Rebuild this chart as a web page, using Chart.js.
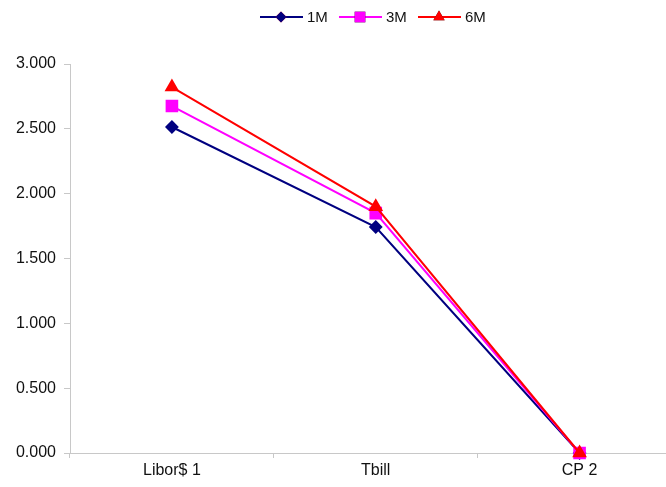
<!DOCTYPE html>
<html>
<head>
<meta charset="utf-8">
<script src="https://cdn.jsdelivr.net/npm/chart.js@4"></script>
<style>
  html, body { margin: 0; padding: 0; background: #fff; overflow: hidden; }
  #wrap { width: 691px; height: 487px; }
</style>
</head>
<body>
<div id="wrap"><canvas id="myChart"></canvas></div>
<script>
const labels = ['Libor$ 1', 'Tbill', 'CP 2'];
const seriesNames = ['1M', '3M', '6M'];
const m1 = [2.514, 1.743, 0.000];
const m3 = [2.676, 1.850, 0.000];
const m6 = [2.822, 1.900, 0.000];
const yTicks = [0, 0.5, 1, 1.5, 2, 2.5, 3];

const colors = ['#000080', '#FF00FF', '#FF0000'];
const styles = ['rectRot', 'rect', 'triangle'];
const radii = [5.5, 7.5, 6.5];
const fontFam = '"Liberation Sans", Arial, sans-serif';

// legend drawn as line + marker, like the original
const lineLegend = {
    id: 'lineLegend',
    afterDraw(chart) {
        const ctx = chart.ctx;
        const xs = [260, 339, 418];
        const y = 17;
        ctx.save();
        chart.data.datasets.forEach((ds, i) => {
            const x = xs[i];
            ctx.strokeStyle = ds.borderColor;
            ctx.lineWidth = 2;
            ctx.beginPath();
            ctx.moveTo(x, y);
            ctx.lineTo(x + 43, y);
            ctx.stroke();
            Chart.helpers.drawPoint(ctx, {pointStyle: ds.pointStyle, radius: ds.pointRadius, rotation: 0}, x + 21, y);
            ctx.fillStyle = ds.borderColor;
            ctx.fill();
            ctx.fillStyle = '#111';
            ctx.font = '15px ' + fontFam;
            ctx.textBaseline = 'middle';
            ctx.fillText(ds.label, x + 47, y + 1);
        });
        ctx.restore();
    }
};

const data = {
    labels: labels,
    datasets: [m1, m3, m6].map((vals, i) => ({
        label: seriesNames[i],
        data: vals,
        borderColor: colors[i],
        backgroundColor: colors[i],
        pointBackgroundColor: colors[i],
        pointBorderColor: colors[i],
        pointStyle: styles[i],
        pointRadius: radii[i],
        pointHoverRadius: radii[i],
        borderWidth: 2,
        tension: 0,
        clip: false,
        order: 2 - i   // later series on top
    }))
};

new Chart(document.getElementById('myChart'), {
    type: 'line',
    data: data,
    plugins: [lineLegend],
    options: {
        responsive: true,
        maintainAspectRatio: false,
        animation: false,
        layout: { padding: { top: 64, left: 0, right: 0, bottom: 0 } },
        plugins: { legend: { display: false }, tooltip: { enabled: false } },
        scales: {
            x: {
                offset: true,
                afterFit(axis) { axis.height = 34; },
                grid: { offset: true, drawOnChartArea: false, color: '#c8c8c8', tickLength: 5 },
                border: { color: '#c8c8c8' },
                ticks: { color: '#111', font: { family: fontFam, size: 16 }, padding: 3 }
            },
            y: {
                min: 0, max: 3,
                afterFit(axis) { axis.width = 70; },
                afterBuildTicks(axis) { axis.ticks = yTicks.map(v => ({ value: v })); },
                grid: { drawOnChartArea: false, color: '#c8c8c8', tickLength: 6 },
                border: { color: '#c8c8c8' },
                ticks: {
                    color: '#111',
                    font: { family: fontFam, size: 16 },
                    padding: 8,
                    callback: v => v.toFixed(3)
                }
            }
        }
    }
});
</script>
</body>
</html>
